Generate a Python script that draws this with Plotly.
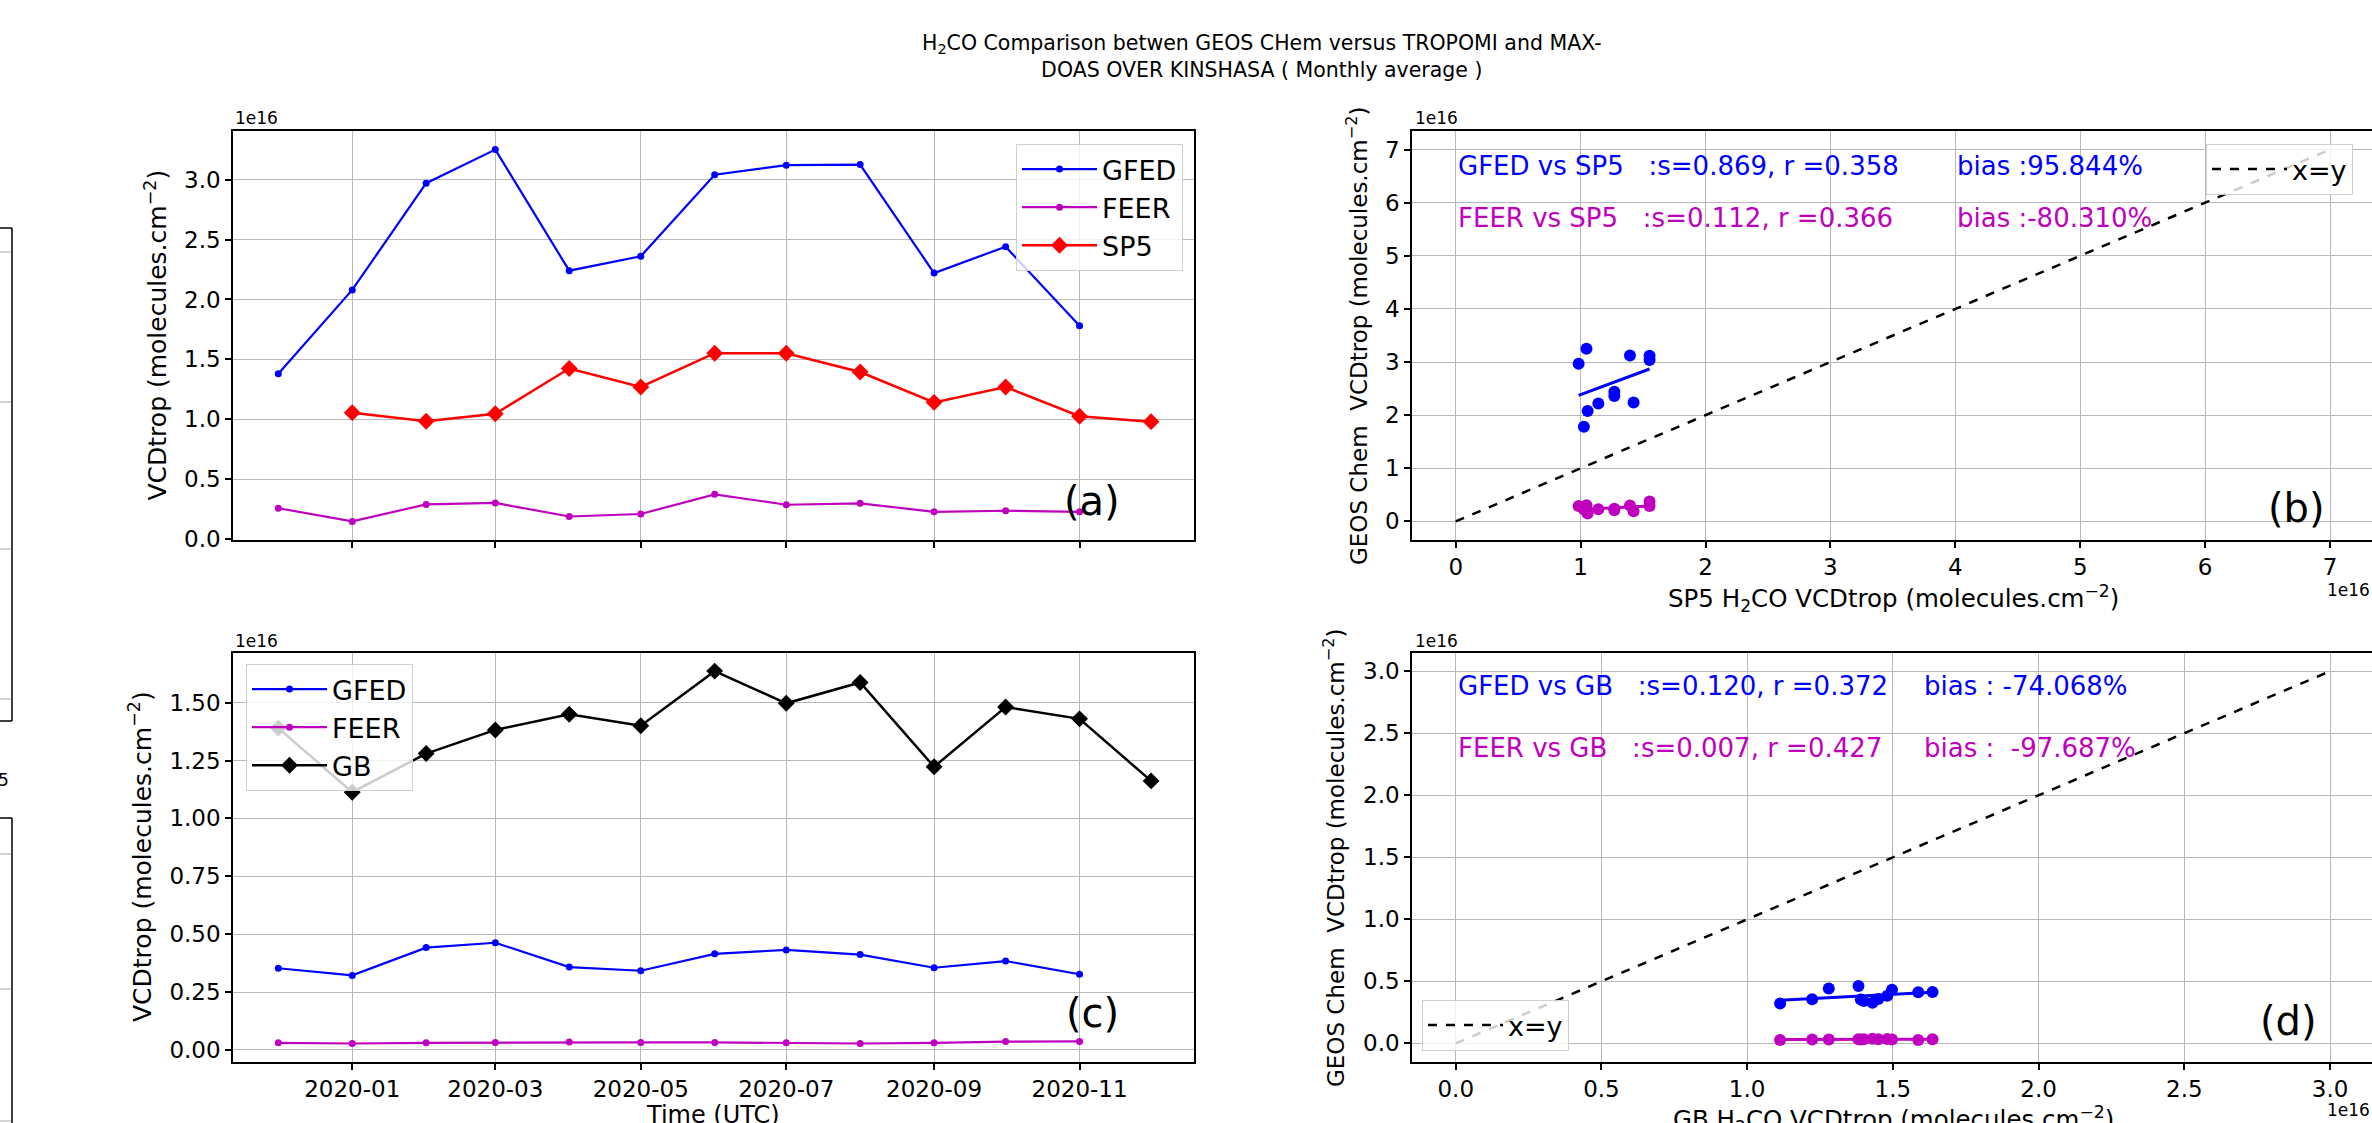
import numpy as np
import plotly.graph_objects as go

W, H = 2372, 1123

# ---------------- data (units of 1e16 molecules/cm2) ----------------
model_months = ["2019-12-01", "2020-01-01", "2020-02-01", "2020-03-01", "2020-04-01", "2020-05-01",
                "2020-06-01", "2020-07-01", "2020-08-01", "2020-09-01", "2020-10-01", "2020-11-01"]
sp5_months = ["2020-01-01", "2020-02-01", "2020-03-01", "2020-04-01", "2020-05-01", "2020-06-01",
              "2020-07-01", "2020-08-01", "2020-09-01", "2020-10-01", "2020-11-01", "2020-12-01"]
gb_months = ["2019-12-01", "2020-01-01", "2020-02-01", "2020-03-01", "2020-04-01", "2020-05-01",
             "2020-06-01", "2020-07-01", "2020-08-01", "2020-09-01", "2020-10-01", "2020-11-01",
             "2020-12-01"]

gfed_sp5 = [1.38, 2.08, 2.97, 3.25, 2.24, 2.36, 3.04, 3.12, 3.125, 2.22, 2.44, 1.78]
feer_sp5 = [0.259, 0.149, 0.291, 0.303, 0.190, 0.211, 0.375, 0.288, 0.300, 0.229, 0.238, 0.229]
sp5 = [1.056, 0.984, 1.047, 1.424, 1.270, 1.552, 1.552, 1.395, 1.142, 1.270, 1.026, 0.981]

gfed_gb = [0.353, 0.322, 0.442, 0.463, 0.358, 0.342, 0.415, 0.432, 0.412, 0.355, 0.384, 0.327]
feer_gb = [0.031, 0.028, 0.031, 0.0325, 0.034, 0.0325, 0.0325, 0.031, 0.028, 0.031, 0.036, 0.037]
gb = [1.39, 1.113, 1.280, 1.382, 1.450, 1.400, 1.636, 1.497, 1.587, 1.223, 1.481, 1.430, 1.162]

date_ticks = ["2020-01", "2020-03", "2020-05", "2020-07", "2020-09", "2020-11"]
xy_line_b = [0, 7]
xy_line_d = [0, 3]

stats_b = [("GFED vs SP5\u00a0\u00a0\u00a0:s=0.869, r =0.358", "bias :95.844%"),
           ("FEER vs SP5\u00a0\u00a0\u00a0:s=0.112, r =0.366", "bias :-80.310%")]
stats_d = [("GFED vs GB\u00a0\u00a0\u00a0:s=0.120, r =0.372", "bias : -74.068%"),
           ("FEER vs GB\u00a0\u00a0\u00a0:s=0.007, r =0.427", "bias :\u00a0\u00a0-97.687%")]

BLUE, MAG, RED, BLK = "#0000ff", "#bf00bf", "#ff0000", "#000000"
FONT = "DejaVu Sans"


def px(x):
    return x / W


def py(y):
    return 1 - y / H


def paired(obs_dates, obs, model):
    m = dict(zip(model_months, model))
    xs, ys = [], []
    for d, v in zip(obs_dates, obs):
        if d in m:
            xs.append(v)
            ys.append(m[d])
    return np.array(xs), np.array(ys)


fig = go.Figure()

# ---------------- (a) ----------------
fig.add_trace(go.Scatter(x=model_months, y=gfed_sp5, mode="lines+markers", name="GFED",
                         line=dict(color=BLUE, width=2.2), marker=dict(size=7, color=BLUE),
                         xaxis="x", yaxis="y", legend="legend"))
fig.add_trace(go.Scatter(x=model_months, y=feer_sp5, mode="lines+markers", name="FEER",
                         line=dict(color=MAG, width=2.2), marker=dict(size=7, color=MAG),
                         xaxis="x", yaxis="y", legend="legend"))
fig.add_trace(go.Scatter(x=sp5_months, y=sp5, mode="lines+markers", name="SP5",
                         line=dict(color=RED, width=2.5),
                         marker=dict(size=13, color=RED, symbol="diamond"),
                         xaxis="x", yaxis="y", legend="legend"))

# ---------------- (c) ----------------
fig.add_trace(go.Scatter(x=model_months, y=gfed_gb, mode="lines+markers", name="GFED",
                         line=dict(color=BLUE, width=2.2), marker=dict(size=7, color=BLUE),
                         xaxis="x3", yaxis="y3", legend="legend3"))
fig.add_trace(go.Scatter(x=model_months, y=feer_gb, mode="lines+markers", name="FEER",
                         line=dict(color=MAG, width=2.2), marker=dict(size=7, color=MAG),
                         xaxis="x3", yaxis="y3", legend="legend3"))
fig.add_trace(go.Scatter(x=gb_months, y=gb, mode="lines+markers", name="GB",
                         line=dict(color=BLK, width=2.5),
                         marker=dict(size=13, color=BLK, symbol="diamond"),
                         xaxis="x3", yaxis="y3", legend="legend3"))


def scatter_panel(obs_dates, obs, model_a, model_b, xa, ya, leg, xy):
    fig.add_trace(go.Scatter(x=xy, y=xy, mode="lines", name="x=y",
                             line=dict(color=BLK, width=2.5, dash="dash"),
                             xaxis=xa, yaxis=ya, legend=leg))
    for model, col in ((model_a, BLUE), (model_b, MAG)):
        xs, ys = paired(obs_dates, obs, model)
        fig.add_trace(go.Scatter(x=xs, y=ys, mode="markers", showlegend=False,
                                 marker=dict(size=12, color=col), xaxis=xa, yaxis=ya))
        s, b = np.polyfit(xs, ys, 1)
        xl = np.array([xs.min(), xs.max()])
        fig.add_trace(go.Scatter(x=xl, y=s * xl + b, mode="lines", showlegend=False,
                                 line=dict(color=col, width=3), xaxis=xa, yaxis=ya))


scatter_panel(sp5_months, sp5, gfed_sp5, feer_sp5, "x2", "y2", "legend2", xy_line_b)
scatter_panel(gb_months, gb, gfed_gb, feer_gb, "x4", "y4", "legend4", xy_line_d)

# ---------------- axes ----------------
left_dom = [px(233), px(1194)]
right_dom = [px(1412), 1.0]
top_dom = [py(540), py(131)]
bot_dom = [py(1062), py(652.6)]


def ax(**kw):
    d = dict(showline=True, mirror=True, linecolor="black", linewidth=1.6,
             showgrid=True, gridcolor="#b8b8b8", gridwidth=1.4, zeroline=False,
             ticks="outside", ticklen=6, tickwidth=1.5, tickcolor="black",
             tickfont=dict(family=FONT, size=23, color="black"), automargin=False)
    d.update(kw)
    return d


date_vals = [t + "-01" for t in date_ticks]
date_range = ["2019-11-12", "2020-12-19"]
half_ticks = [0, 0.5, 1, 1.5, 2, 2.5, 3]
half_text = ["0.0", "0.5", "1.0", "1.5", "2.0", "2.5", "3.0"]

fig.update_layout(
    xaxis=ax(domain=left_dom, anchor="y", type="date", range=date_range,
             tickmode="array", tickvals=date_vals, ticktext=date_ticks, showticklabels=False),
    yaxis=ax(domain=top_dom, anchor="x", range=[-0.006, 3.405],
             tickmode="array", tickvals=half_ticks, ticktext=half_text),
    xaxis3=ax(domain=left_dom, anchor="y3", type="date", range=date_range,
              tickmode="array", tickvals=date_vals, ticktext=date_ticks),
    yaxis3=ax(domain=bot_dom, anchor="x3", range=[-0.052, 1.716],
              tickmode="array", tickvals=[0, 0.25, 0.5, 0.75, 1.0, 1.25, 1.5],
              ticktext=["0.00", "0.25", "0.50", "0.75", "1.00", "1.25", "1.50"]),
    xaxis2=ax(domain=right_dom, anchor="y2", range=[-0.35, 7.336],
              tickmode="array", tickvals=list(range(8)), ticktext=[str(i) for i in range(8)]),
    yaxis2=ax(domain=top_dom, anchor="x2", range=[-0.35, 7.35],
              tickmode="array", tickvals=list(range(8)), ticktext=[str(i) for i in range(8)]),
    xaxis4=ax(domain=right_dom, anchor="y4", range=[-0.15, 3.144],
              tickmode="array", tickvals=half_ticks, ticktext=half_text),
    yaxis4=ax(domain=bot_dom, anchor="x4", range=[-0.15, 3.15],
              tickmode="array", tickvals=half_ticks, ticktext=half_text),
)

leg_common = dict(bgcolor="rgba(255,255,255,0.8)", bordercolor="#d0d0d0", borderwidth=1,
                  font=dict(family=FONT, size=27, color="black"), xanchor="left", yanchor="top",
                  itemwidth=75, tracegroupgap=0)
fig.update_layout(
    legend=dict(x=px(1016), y=py(144), **leg_common),
    legend3=dict(x=px(246), y=py(664), **leg_common),
    legend2=dict(x=px(2206), y=py(144), **leg_common),
    legend4=dict(x=px(1422), y=py(1000), **leg_common),
)

ann = []


def txt(x, y, text, size, xanchor="center", yanchor="middle", angle=0, color="black",
        xref="paper", yref="paper"):
    ann.append(dict(x=x, y=y, xref=xref, yref=yref, text=text, showarrow=False,
                    xanchor=xanchor, yanchor=yanchor, textangle=angle,
                    font=dict(family=FONT, size=size, color=color)))


# title
txt(px(1262), py(56), "H<sub>2</sub>CO Comparison betwen GEOS CHem versus TROPOMI and MAX-<br>"
    "DOAS OVER KINSHASA ( Monthly average )", 20.5)

# axis titles
ylab = "VCDtrop (molecules.cm<sup>\u22122</sup>)"
txt(px(156), py(335.5), ylab, 25, angle=-90)
txt(px(140), py(857), ylab, 25, angle=-90)
txt(px(1357), py(336), "GEOS Chem\u00a0\u00a0" + ylab, 23, angle=-90)
txt(px(1334), py(858), "GEOS Chem\u00a0\u00a0" + ylab, 23, angle=-90)
txt(px(1893), py(598), "SP5 H<sub>2</sub>CO VCDtrop (molecules.cm<sup>\u22122</sup>)", 24.5)
txt(px(1893), py(1119), "GB H<sub>2</sub>CO VCDtrop (molecules.cm<sup>\u22122</sup>)", 24.5)
txt(px(713), py(1115), "Time (UTC)", 24)

# offset texts
for x, y, xa in ((233, 118, "left"), (233, 641, "left"), (1413, 118, "left"), (1413, 641, "left"),
                 (2372, 590, "right"), (2372, 1110, "right")):
    txt(px(x), py(y), "1e16", 17, xanchor=xa)

# panel letters
txt(px(1092), py(501), "(a)", 40)
txt(px(2296), py(508), "(b)", 40)
txt(px(1092), py(1013), "(c)", 40)
txt(px(2288), py(1021), "(d)", 40)

# statistics
for (lhs, bias), yv, col in zip(stats_b, (6.70, 5.71), (BLUE, MAG)):
    txt(0, yv, lhs, 26, xanchor="left", color=col, xref="x2", yref="y2")
    txt(4.0, yv, bias, 26, xanchor="left", color=col, xref="x2", yref="y2")
for (lhs, bias), yv, col in zip(stats_d, (2.88, 2.38), (BLUE, MAG)):
    txt(0, yv, lhs, 26, xanchor="left", color=col, xref="x4", yref="y4")
    txt(1.6, yv, bias, 26, xanchor="left", color=col, xref="x4", yref="y4")

# clipped remnant of a neighbouring figure at the far left edge
txt(px(11), py(780), "5", 17, xanchor="right")

shapes = []


def seg(x0, y0, x1, y1, color="black", width=1.5):
    shapes.append(dict(type="line", xref="paper", yref="paper", x0=px(x0), y0=py(y0),
                       x1=px(x1), y1=py(y1), line=dict(color=color, width=width)))


seg(12, 228, 12, 721)
seg(0, 228, 12, 228)
seg(0, 721, 12, 721)
for yy in (252, 402, 549, 699):
    seg(0, yy, 11, yy, color="#b8b8b8", width=1.2)
seg(12, 818, 12, 1123)
seg(0, 818, 12, 818)
for yy in (854, 989, 1121):
    seg(0, yy, 11, yy, color="#b8b8b8", width=1.2)

fig.update_layout(annotations=ann, shapes=shapes,
                  width=W, height=H, margin=dict(l=0, r=0, t=0, b=0),
                  paper_bgcolor="white", plot_bgcolor="white",
                  font=dict(family=FONT, color="black"))

fig.write_html("out.html")
